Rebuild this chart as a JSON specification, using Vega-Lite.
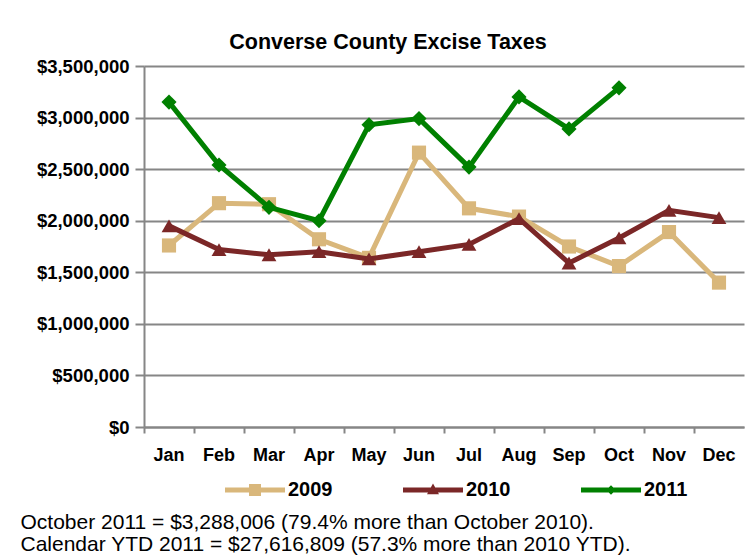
{
  "$schema": "https://vega.github.io/schema/vega-lite/v6.json",
  "width": 600,
  "height": 361,
  "autosize": {"type": "none"},
  "padding": {"left": 144, "top": 66, "right": 7, "bottom": 128},
  "background": "white",
  "title": {
    "text": "Converse County Excise Taxes",
    "font": "Liberation Sans",
    "fontSize": 21.5,
    "fontWeight": "bold",
    "color": "black",
    "anchor": "middle",
    "frame": "group",
    "dx": -56,
    "offset": 4
  },
  "config": {
    "view": {"stroke": null},
    "font": "Liberation Sans"
  },
  "data": {
    "values": [
      {"month": "Jan", "year": "2009", "value": 1760000},
      {"month": "Feb", "year": "2009", "value": 2170000},
      {"month": "Mar", "year": "2009", "value": 2160000},
      {"month": "Apr", "year": "2009", "value": 1820000},
      {"month": "May", "year": "2009", "value": 1640000},
      {"month": "Jun", "year": "2009", "value": 2660000},
      {"month": "Jul", "year": "2009", "value": 2120000},
      {"month": "Aug", "year": "2009", "value": 2040000},
      {"month": "Sep", "year": "2009", "value": 1750000},
      {"month": "Oct", "year": "2009", "value": 1560000},
      {"month": "Nov", "year": "2009", "value": 1890000},
      {"month": "Dec", "year": "2009", "value": 1400000},
      {"month": "Jan", "year": "2010", "value": 1950000},
      {"month": "Feb", "year": "2010", "value": 1720000},
      {"month": "Mar", "year": "2010", "value": 1670000},
      {"month": "Apr", "year": "2010", "value": 1700000},
      {"month": "May", "year": "2010", "value": 1630000},
      {"month": "Jun", "year": "2010", "value": 1700000},
      {"month": "Jul", "year": "2010", "value": 1770000},
      {"month": "Aug", "year": "2010", "value": 2020000},
      {"month": "Sep", "year": "2010", "value": 1590000},
      {"month": "Oct", "year": "2010", "value": 1833000},
      {"month": "Nov", "year": "2010", "value": 2100000},
      {"month": "Dec", "year": "2010", "value": 2030000},
      {"month": "Jan", "year": "2011", "value": 3150000},
      {"month": "Feb", "year": "2011", "value": 2540000},
      {"month": "Mar", "year": "2011", "value": 2130000},
      {"month": "Apr", "year": "2011", "value": 2000000},
      {"month": "May", "year": "2011", "value": 2930000},
      {"month": "Jun", "year": "2011", "value": 2990000},
      {"month": "Jul", "year": "2011", "value": 2520000},
      {"month": "Aug", "year": "2011", "value": 3200000},
      {"month": "Sep", "year": "2011", "value": 2890000},
      {"month": "Oct", "year": "2011", "value": 3288006}
    ]
  },
  "encoding": {
    "x": {
      "field": "month",
      "type": "nominal",
      "sort": ["Jan","Feb","Mar","Apr","May","Jun","Jul","Aug","Sep","Oct","Nov","Dec"],
      "scale": {"type": "band", "paddingInner": 0, "paddingOuter": 0},
      "axis": {
        "labelAngle": 0,
        "labelFont": "Liberation Sans",
        "labelFontSize": 18,
        "labelFontWeight": "bold",
        "labelColor": "black",
        "labelPadding": 13,
        "domainColor": "#868686",
        "domainWidth": 2,
        "tickColor": "#868686",
        "tickWidth": 2,
        "tickSize": 6,
        "bandPosition": 0,
        "grid": false,
        "title": ["October 2011 = $3,288,006 (79.4% more than October 2010).", "Calendar YTD 2011 = $27,616,809 (57.3% more than 2010 YTD)."],
        "titleFont": "Liberation Sans",
        "titleFontSize": 21,
        "titleFontWeight": "normal",
        "titleColor": "black",
        "titleAlign": "left",
        "titleAnchor": "start",
        "titleBaseline": "top",
        "titleX": -124,
        "titleY": 84,
        "titleLineHeight": 22
      }
    },
    "y": {
      "field": "value",
      "type": "quantitative",
      "scale": {"domain": [0, 3500000], "nice": false},
      "axis": {
        "values": [0, 500000, 1000000, 1500000, 2000000, 2500000, 3000000, 3500000],
        "format": "$,.0f",
        "title": null,
        "labelFont": "Liberation Sans",
        "labelFontSize": 18.5,
        "labelFontWeight": "bold",
        "labelColor": "black",
        "labelPadding": 6,
        "domainColor": "#868686",
        "domainWidth": 2,
        "tickColor": "#868686",
        "tickWidth": 2,
        "tickSize": 9,
        "grid": true,
        "gridColor": "#868686",
        "gridWidth": 2
      }
    },
    "color": {
      "field": "year",
      "type": "nominal",
      "scale": {"domain": ["2009", "2010", "2011"], "range": ["#D9B77B", "#7B2727", "#008000"]},
      "legend": {
        "title": null,
        "orient": "none",
        "direction": "horizontal",
        "legendX": 81,
        "legendY": 394,
        "symbolSize": 3600,
        "labelFont": "Liberation Sans",
        "labelFontSize": 20,
        "labelFontWeight": "bold",
        "labelColor": "black",
        "labelOffset": 3,
        "columnPadding": 70,
        "encode": {
          "symbols": {
            "update": {
              "shape": {"signal": "datum.value === '2009' ? 'M-1,-0.085H1V0.085H-1Z M-0.2,-0.2H0.2V0.2H-0.2Z' : datum.value === '2010' ? 'M-1,-0.085H1V0.085H-1Z M0,-0.22L0.2,0.14H-0.2Z' : 'M-1,-0.085H1V0.085H-1Z M0,-0.16L0.16,0L0,0.16L-0.16,0Z'"},
              "fill": {"scale": "color", "field": "value"},
              "fillOpacity": {"value": 1},
              "strokeWidth": {"value": 0},
              "opacity": {"value": 1}
            }
          }
        }
      }
    }
  },
  "layer": [
    {"transform": [{"filter": "datum.year === '2009'"}], "mark": {"type": "line", "strokeWidth": 5}},
    {"transform": [{"filter": "datum.year === '2009'"}], "mark": {"type": "point", "shape": "square", "filled": true, "size": 200, "opacity": 1}},
    {"transform": [{"filter": "datum.year === '2010'"}], "mark": {"type": "line", "strokeWidth": 5}},
    {"transform": [{"filter": "datum.year === '2010'"}], "mark": {"type": "point", "shape": "triangle-up", "filled": true, "size": 220, "opacity": 1}},
    {"transform": [{"filter": "datum.year === '2011'"}], "mark": {"type": "line", "strokeWidth": 5}},
    {"transform": [{"filter": "datum.year === '2011'"}], "mark": {"type": "point", "shape": "diamond", "filled": true, "size": 230, "opacity": 1}}
  ]
}
